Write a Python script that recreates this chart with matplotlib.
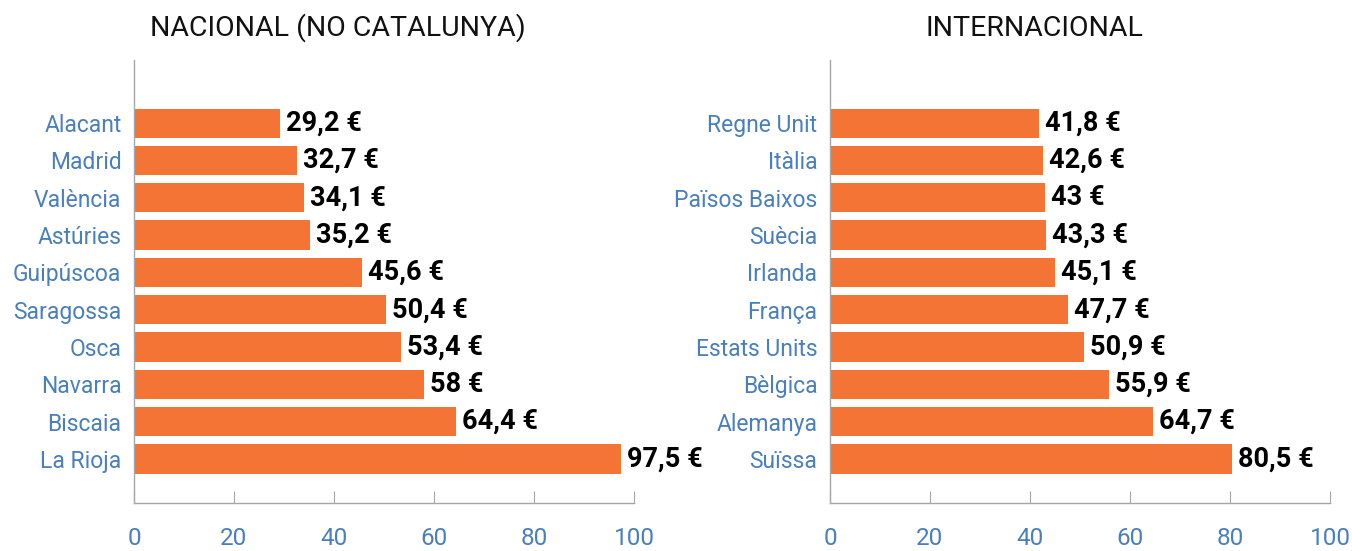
import numpy as np
import matplotlib.pyplot as plt

plt.rcParams['font.family'] = ['Roboto', 'DejaVu Sans']

# Dades
nacional_llocs = ['Alacant', 'Madrid', 'València', 'Astúries', 'Guipúscoa',
                  'Saragossa', 'Osca', 'Navarra', 'Biscaia', 'La Rioja']
nacional_preus = [29.2, 32.7, 34.1, 35.2, 45.6, 50.4, 53.4, 58, 64.4, 97.5]

internacional_llocs = ['Regne Unit', 'Itàlia', 'Països Baixos', 'Suècia', 'Irlanda',
                       'França', 'Estats Units', 'Bèlgica', 'Alemanya', 'Suïssa']
internacional_preus = [41.8, 42.6, 43, 43.3, 45.1, 47.7, 50.9, 55.9, 64.7, 80.5]

x_ticks = [0, 20, 40, 60, 80, 100]

taronja = '#f37435'
blau = '#4a7fbe'
gris = '#a6a6a6'


def format_preu(v):
    s = f'{v:g}'.replace('.', ',')
    return f'{s} €'


def dibuixa(ax, llocs, preus):
    y = np.arange(len(llocs))
    ax.barh(y, preus, height=0.78, color=taronja)
    for yi, v in zip(y, preus):
        ax.text(v + 1.2, yi, format_preu(v), va='center', ha='left',
                fontsize=19.5, fontweight='bold', color='black')

    ax.set_yticks(y)
    ax.set_yticklabels(llocs, color=blau, fontsize=16.5)
    ax.tick_params(axis='y', length=0, pad=9)

    ax.set_xlim(0, 100)
    ax.set_xticks(x_ticks)
    ax.set_xticklabels([str(t) for t in x_ticks], color=blau, fontsize=17.5)
    ax.tick_params(axis='x', direction='in', length=9, color=gris, pad=17)

    ax.set_ylim(len(llocs) - 1 + 1.18, -1.69)

    for s in ['top', 'right']:
        ax.spines[s].set_visible(False)
    for s in ['left', 'bottom']:
        ax.spines[s].set_color(gris)
        ax.spines[s].set_linewidth(1)


fig = plt.figure(figsize=(13.52, 5.51), dpi=100)
ax1 = fig.add_axes([0.0991, 0.0871, 0.3698, 0.804])
ax2 = fig.add_axes([0.6139, 0.0871, 0.3698, 0.804])

dibuixa(ax1, nacional_llocs, nacional_preus)
dibuixa(ax2, internacional_llocs, internacional_preus)

# Títols (una mica desplaçats a l'esquerra com a l'original)
fig.text(0.25, 0.949, 'NACIONAL (NO CATALUNYA)', ha='center', va='center',
         fontsize=20.5, color='#111111')
fig.text(0.765, 0.949, 'INTERNACIONAL', ha='center', va='center',
         fontsize=20.5, color='#111111')

fig.savefig('out.png', dpi=100)
